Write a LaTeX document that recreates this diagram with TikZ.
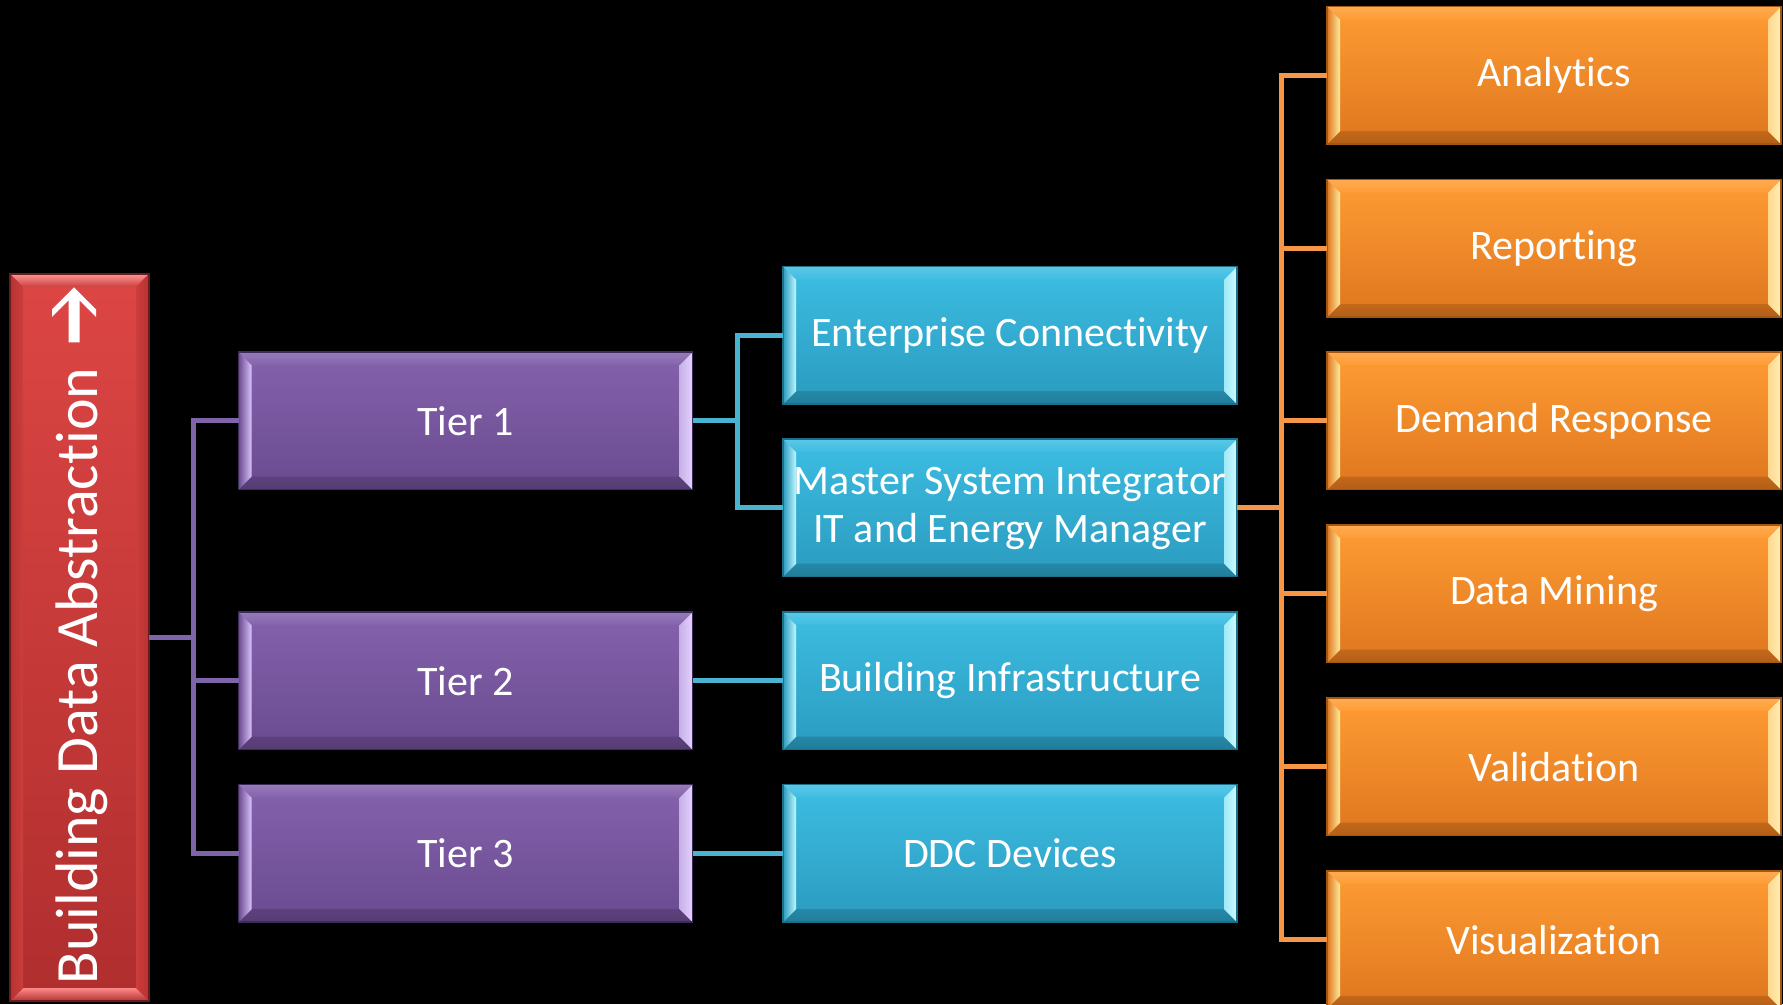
\documentclass[tikz,border=0pt]{standalone}
\usepackage{fontspec}
\setmainfont{Carlito}[RawFeature={-liga;-clig;-calt;-dlig}]
\usetikzlibrary{calc}

% bevel depth of the framed boxes
\newcommand\bvw{13pt}
\newcommand\bxfont{\fontsize{42}{48}\selectfont}
\newcommand\sidefont{\fontsize{60}{70}\selectfont}

\definecolor{pline}{HTML}{7E64A8}
\definecolor{bline}{HTML}{4BB3D2}
\definecolor{oline}{HTML}{F79646}

% purple tier boxes
\definecolor{pTop}{HTML}{8463AD}
\definecolor{pBot}{HTML}{6A4A8F}
\definecolor{pOut}{HTML}{3E2C58}
\definecolor{pLft}{HTML}{D9C2FA}
\definecolor{pRgt}{HTML}{E4D2FF}
% blue layer boxes
\definecolor{cTop}{HTML}{3DBDE2}
\definecolor{cBot}{HTML}{2A9BBF}
\definecolor{cOut}{HTML}{1D6E87}
\definecolor{cLft}{HTML}{BFF8FF}
\definecolor{cRgt}{HTML}{CBFBFF}
% orange application boxes
\definecolor{oTop}{HTML}{FF9C34}
\definecolor{oBot}{HTML}{DE761E}
\definecolor{oOut}{HTML}{A35812}
\definecolor{oLft}{HTML}{FFEC9E}
\definecolor{oRgt}{HTML}{FFF0B4}
% red bar
\definecolor{rTop}{HTML}{DC4644}
\definecolor{rBot}{HTML}{B02E2E}
\definecolor{rOut}{HTML}{6A1C1C}
\definecolor{rMid}{HTML}{CD3E3C}
\definecolor{rHiT}{HTML}{FA9696}
\definecolor{rHiB}{HTML}{FF8A8A}
\definecolor{rDk}{HTML}{B43232}

\tikzset{
  % horizontal bevelled box: #1 face top, #2 face bottom, #3 outline,
  % #4 left bevel inner light, #5 right bevel light
  hbev/.style n args={5}{
    draw=#3, line width=1.5pt, top color=#1, bottom color=#2,
    outer sep=0pt, inner sep=0pt, minimum width=454pt, minimum height=137.5pt,
    text=white, font=\bxfont, align=center,
    path picture={
      \coordinate (bnw) at (path picture bounding box.north west);
      \coordinate (bne) at (path picture bounding box.north east);
      \coordinate (bsw) at (path picture bounding box.south west);
      \coordinate (bse) at (path picture bounding box.south east);
      \path[top color=#1!85!white, bottom color=#1]
        (bnw) -- (bne) -- ($(bne)+(-\bvw,-\bvw)$) -- ($(bnw)+(\bvw,-\bvw)$) -- cycle;
      \path[top color=#2!88!black, bottom color=#2!80!black]
        (bsw) -- (bse) -- ($(bse)+(-\bvw,\bvw)$) -- ($(bsw)+(\bvw,\bvw)$) -- cycle;
      \path[left color=#2, right color=#4]
        (bnw) -- (bsw) -- ($(bsw)+(\bvw,\bvw)$) -- ($(bnw)+(\bvw,-\bvw)$) -- cycle;
      \path[left color=#5!70!#1, right color=#5]
        (bne) -- (bse) -- ($(bse)+(-\bvw,\bvw)$) -- ($(bne)+(-\bvw,-\bvw)$) -- cycle;
    }
  },
  purplebox/.style={hbev={pTop}{pBot}{pOut}{pLft}{pRgt}},
  bluebox/.style={hbev={cTop}{cBot}{cOut}{cLft}{cRgt}},
  orangebox/.style={hbev={oTop}{oBot}{oOut}{oLft}{oRgt}},
  % vertical bevelled box (light falls on the top and bottom bevels)
  redbox/.style={
    draw=rOut, line width=1.5pt, top color=rTop, bottom color=rBot,
    outer sep=0pt, inner sep=0pt, minimum width=139pt, minimum height=727pt,
    path picture={
      \coordinate (bnw) at (path picture bounding box.north west);
      \coordinate (bne) at (path picture bounding box.north east);
      \coordinate (bsw) at (path picture bounding box.south west);
      \coordinate (bse) at (path picture bounding box.south east);
      \path[top color=rHiT, bottom color=rMid]
        (bnw) -- (bne) -- ($(bne)+(-\bvw,-\bvw)$) -- ($(bnw)+(\bvw,-\bvw)$) -- cycle;
      \path[top color=rHiB, bottom color=rDk]
        (bsw) -- (bse) -- ($(bse)+(-\bvw,\bvw)$) -- ($(bsw)+(\bvw,\bvw)$) -- cycle;
      \path[left color=rDk, right color=rMid]
        (bnw) -- (bsw) -- ($(bsw)+(\bvw,\bvw)$) -- ($(bnw)+(\bvw,-\bvw)$) -- cycle;
      \path[left color=rMid, right color=rDk]
        (bne) -- (bse) -- ($(bse)+(-\bvw,\bvw)$) -- ($(bne)+(-\bvw,-\bvw)$) -- cycle;
    }
  },
  conn/.style={line width=5pt, line join=miter},
}

\begin{document}
\begin{tikzpicture}[x=1pt, y=1pt]
  \fill[black] (0,0) rectangle (1783,1004);
  \useasboundingbox (0,0) rectangle (1783,1004);
  \clip (0,0) rectangle (1783,1004);

  % left column: the abstraction bar
  \node[redbox] (bar) at (79.5,366.5) {};
  \node[rotate=90, anchor=base, text=white, font=\sidefont, inner sep=0pt] (bartext)
    at (97,328) {Building Data Abstraction};
  \fill[white] (74,716.5) -- (96,694.5) -- (96,687) -- (79.5,703.5) -- (79.5,661.5)
    -- (68.5,661.5) -- (68.5,703.5) -- (52,687) -- (52,694.5) -- cycle;

  % tiers
  \node[purplebox] (t1) at (465.5,583)   {Tier 1};
  \node[purplebox] (t2) at (465.5,323)   {Tier 2};
  \node[purplebox] (t3) at (465.5,150.5) {Tier 3};

  % layers
  \node[bluebox] (ent) at (1010,668.5) {Enterprise Connectivity};
  \node[bluebox] (msi) at (1010,496)   {Master System Integrator\\IT and Energy Manager};
  \node[bluebox] (bld) at (1010,323)   {Building Infrastructure};
  \node[bluebox] (ddc) at (1010,150.5) {DDC Devices};

  % applications
  \node[orangebox] (ana) at (1554,928.5) {Analytics};
  \node[orangebox] (rep) at (1554,755.5) {Reporting};
  \node[orangebox] (dem) at (1554,583)   {Demand Response};
  \node[orangebox] (dat) at (1554,410)   {Data Mining};
  \node[orangebox] (val) at (1554,237)   {Validation};
  \node[orangebox] (vis) at (1554,64)    {Visualization};

  % junction points of the trees
  \coordinate (pj) at (193,366.5);
  \coordinate (bj) at (737,583);
  \coordinate (oj) at (1281.5,496);

  % bar to tiers
  \draw[conn, pline] (t1.west) -| (pj) |- (t3.west);
  \draw[conn, pline] (bar.east) -- (pj);
  \draw[conn, pline] (t2.west) -- (pj |- t2.west);

  % tiers to layers
  \draw[conn, bline] (ent.west) -| (bj) |- (msi.west);
  \draw[conn, bline] (t1.east) -- (bj);
  \draw[conn, bline] (t2.east) -- (bld.west);
  \draw[conn, bline] (t3.east) -- (ddc.west);

  % integrator to applications
  \draw[conn, oline] (ana.west) -| (oj) |- (vis.west);
  \draw[conn, oline] (msi.east) -- (oj);
  \draw[conn, oline] (rep.west) -- (oj |- rep.west);
  \draw[conn, oline] (dem.west) -- (oj |- dem.west);
  \draw[conn, oline] (dat.west) -- (oj |- dat.west);
  \draw[conn, oline] (val.west) -- (oj |- val.west);
\end{tikzpicture}
\end{document}
